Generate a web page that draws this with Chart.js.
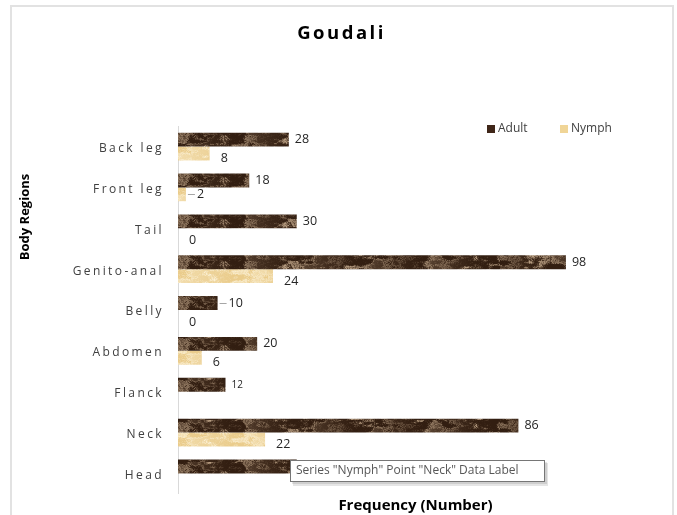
<!DOCTYPE html>
<html>
<head>
<meta charset="utf-8">
<script src="https://cdn.jsdelivr.net/npm/chart.js"></script>
<style>
  html, body { margin: 0; background: #fff; }
  #wrap { position: relative; width: 677px; height: 515px; overflow: hidden; }
  #frame { position: absolute; left: 10px; top: 5px; width: 664px; height: 540px;
           border: 2px solid #e2e2e2; box-sizing: border-box; }
  #goudaliChart { position: absolute; left: 0; top: 0; }
</style>
</head>
<body>
<div id="wrap">
  <div id="frame"></div>
  <canvas id="goudaliChart" width="677" height="515"></canvas>
</div>

<script>
// Goudali - tick counts per body region
const regions = ['Back leg', 'Front leg', 'Tail', 'Genito-anal', 'Belly', 'Abdomen', 'Flanck', 'Neck', 'Head'];
const adult = [28, 18, 30, 98, 10, 20, 12, 86, 30];
const nymph = [8, 2, 0, 24, 0, 6, null, 22, null];
const xMax = 120;

// marbled fill for the bars (smoothed hash noise, two octaves)
function hash(x, y) {
  const s = Math.sin(x * 127.1 + y * 311.7) * 43758.5453;
  return s - Math.floor(s);
}
function noise(x, y) {
  const xi = Math.floor(x), yi = Math.floor(y);
  const fx = x - xi, fy = y - yi;
  const sx = fx * fx * (3 - 2 * fx), sy = fy * fy * (3 - 2 * fy);
  const a = hash(xi, yi), b = hash(xi + 1, yi), c = hash(xi, yi + 1), d = hash(xi + 1, yi + 1);
  return a + (b - a) * sx + (c - a) * sy + (a - b - c + d) * sx * sy;
}
function marble(dark, light, gamma) {
  const w = 500, h = 42;
  const cv = document.createElement('canvas');
  cv.width = w; cv.height = h;
  const g = cv.getContext('2d');
  const img = g.createImageData(w, h);
  for (let y = 0; y < h; y++) {
    for (let x = 0; x < w; x++) {
      const n = 0.55 * noise(x / 14, y / 5) + 0.3 * noise(x / 5, y / 2.5) + 0.15 * hash(x, y);
      const vein = Math.abs(Math.sin(x * 0.05 + 6 * n));
      let v = 0.6 * n + 0.4 * (1 - vein);
      v = Math.pow(Math.max(0, Math.min(1, (v - 0.25) / 0.6)), gamma);
      const k = (y * w + x) * 4;
      for (let j = 0; j < 3; j++) img.data[k + j] = dark[j] + (light[j] - dark[j]) * v;
      img.data[k + 3] = 255;
    }
  }
  g.putImageData(img, 0, 0);
  return g.createPattern(cv, 'repeat');
}

const ctx = document.getElementById('goudaliChart').getContext('2d');
const adultFill = marble([50, 30, 17], [182, 156, 128], 1.6);
const nymphFill = marble([234, 204, 140], [251, 240, 212], 1.0);

// draw an element's text with letter spacing (and an optional vertical nudge)
function spaced(obj, method, spacing, dy) {
  if (obj[method]._spaced) return;
  const orig = obj[method];
  obj[method] = function (...args) {
    this.ctx.save();
    this.ctx.letterSpacing = spacing;
    this.ctx.translate(0, dy || 0);
    orig.apply(this, args);
    this.ctx.restore();
  };
  obj[method]._spaced = true;
}

const leaderLines = [['Adult', 'Belly'], ['Nymph', 'Front leg']];

const extras = {
  id: 'extras',
  beforeDraw(chart) {
    spaced(chart.scales.y, 'drawLabels', '2.4px', 2);
    spaced(chart.scales.x, 'drawTitle', '0px', 3);
    if (chart.titleBlock) spaced(chart.titleBlock, 'draw', '2.5px', 3);
  },
  afterDatasetsDraw(chart) {
    const c = chart.ctx;
    c.save();
    c.textBaseline = 'middle';
    c.fillStyle = '#262626';
    chart.data.datasets.forEach((ds, di) => {
      chart.getDatasetMeta(di).data.forEach((bar, i) => {
        const v = ds.data[i];
        if (v === null) return;
        const lead = leaderLines.some(l => l[0] === ds.label && l[1] === regions[i]);
        let dx = di === 0 ? 6 : 11;
        const dy = di === 0 ? 0 : 5;
        if (lead) {
          c.strokeStyle = '#a6a6a6';
          c.lineWidth = 1;
          c.beginPath();
          c.moveTo(bar.x + 2, Math.round(bar.y) + 0.5);
          c.lineTo(bar.x + 9, Math.round(bar.y) + 0.5);
          c.stroke();
          dx = 11;
        }
        c.font = (ds.label === 'Adult' && regions[i] === 'Flanck') ? '10px "Open Sans"' : '12.5px "Open Sans"';
        c.fillText(String(v), bar.x + dx, bar.y + (lead ? 0 : dy));
      });
    });
    c.restore();
  },
  afterDraw(chart) {
    const c = chart.ctx;
    c.save();
    // legend
    c.font = '12px "Open Sans"';
    c.textBaseline = 'middle';
    const items = [[487, 0], [560, 1]];
    items.forEach(([x, di]) => {
      const ds = chart.data.datasets[di];
      c.fillStyle = di === 0 ? '#3f2618' : '#f0d597';
      c.fillRect(x, 125, 8, 8);
      c.fillStyle = '#404040';
      c.fillText(ds.label, x + 11, 129);
    });

    // y axis title
    c.translate(25, 217);
    c.rotate(-Math.PI / 2);
    c.font = 'bold 13px "Open Sans"';
    c.textAlign = 'center';
    c.fillStyle = '#000';
    c.fillText('Body Regions', 0, 0);
    c.setTransform(1, 0, 0, 1, 0, 0);

    // selection hint box
    c.fillStyle = 'rgba(0,0,0,0.10)';
    c.fillRect(293, 463, 255, 23);
    c.fillRect(292, 462, 255, 22);
    c.fillStyle = '#fff';
    c.fillRect(290, 460, 255, 22);
    c.strokeStyle = '#767676';
    c.lineWidth = 1;
    c.strokeRect(290.5, 460.5, 254, 21);
    c.font = '12px "Open Sans"';
    c.textAlign = 'left';
    c.fillStyle = '#575757';
    c.fillText('Series "Nymph" Point "Neck" Data Label', 296, 471);
    c.restore();
  }
};

new Chart(ctx, {
  type: 'bar',
  data: {
    labels: regions,
    datasets: [
      { label: 'Adult', data: adult, backgroundColor: adultFill },
      { label: 'Nymph', data: nymph, backgroundColor: nymphFill }
    ]
  },
  options: {
    responsive: false,
    animation: false,
    indexAxis: 'y',
    layout: { autoPadding: false, padding: { left: 30, right: 24, top: 0, bottom: 0 } },
    datasets: { bar: { categoryPercentage: 0.68, barPercentage: 1 } },
    plugins: {
      legend: { display: false },
      tooltip: { enabled: false },
      title: {
        display: true,
        text: 'Goudali',
        color: '#000',
        font: { family: 'Open Sans', size: 18.5, weight: 'bold' },
        padding: { top: 20, bottom: 84 }
      }
    },
    scales: {
      x: {
        min: 0,
        max: xMax,
        ticks: { display: false },
        grid: { display: false },
        border: { display: false },
        title: {
          display: true,
          text: 'Frequency (Number)',
          color: '#000',
          font: { family: 'Open Sans', size: 15, weight: 'bold' },
          padding: { top: 0, bottom: 0 }
        },
        afterFit(scale) { scale.height = 18; }
      },
      y: {
        grid: { display: false, drawTicks: false },
        border: { display: true, color: '#d9d9d9', width: 1 },
        ticks: { padding: 14, color: '#404040', font: { family: 'Open Sans', size: 12 } },
        afterFit(scale) { scale.width = 148; }
      }
    }
  },
  plugins: [extras]
});
</script>
</body>
</html>
